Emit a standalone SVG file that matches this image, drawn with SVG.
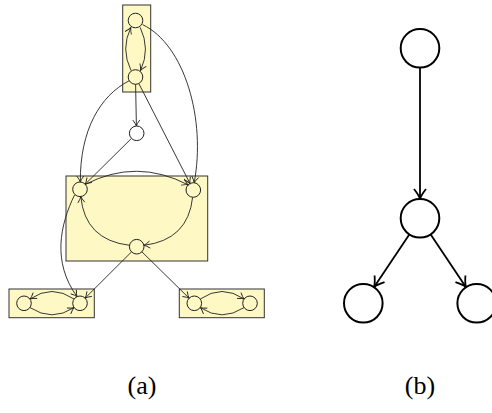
<svg xmlns="http://www.w3.org/2000/svg" width="492" height="413" viewBox="0 0 492 413">
<style>
.box{fill:#fdf8c4;stroke:#333;stroke-width:1}
.na{fill:none;stroke:#222;stroke-width:1}
.ea{fill:none;stroke:#222;stroke-width:0.9;marker-end:url(#aa)}
.nb{fill:#fff;stroke:#000;stroke-width:2}
.eb{fill:none;stroke:#000;stroke-width:1.8;marker-end:url(#ab)}
.lbl{font-family:"Liberation Serif","DejaVu Serif",serif;font-size:26px;fill:#000;text-anchor:middle}
</style>
<defs>
<marker id="aa" markerUnits="userSpaceOnUse" markerWidth="12" markerHeight="12" viewBox="-7 -6 8 12" refX="0" refY="0" orient="auto" overflow="visible">
<path d="M-6,-3.5 Q-2.2,-0.7 0,0 Q-2.2,0.7 -6,3.5" fill="none" stroke="#222" stroke-width="0.9"/>
</marker>
<marker id="ab" markerUnits="userSpaceOnUse" markerWidth="20" markerHeight="20" viewBox="-12 -10 14 20" refX="0" refY="0" orient="auto" overflow="visible">
<path d="M-10,-6 Q-3.8,-1.1 0,0 Q-3.8,1.1 -10,6" fill="none" stroke="#000" stroke-width="1.8"/>
</marker>
</defs>
<g id="boxes">
<rect id="box-top" class="box" x="122.7" y="5" width="28" height="87"/>
<rect id="box-mid" class="box" x="66" y="176" width="141.7" height="85"/>
<rect id="box-bl" class="box" x="9" y="289" width="85.3" height="28.7"/>
<rect id="box-br" class="box" x="179.3" y="289" width="85" height="28.7"/>
</g>
<g id="connectors">
<path class="ea" d="M131,70.5 Q120.5,49 130.8,27.6"/>
<path class="ea" d="M140.2,27.4 Q150.5,49 140.6,70.4"/>
<path class="ea" d="M142.6,24.6 C185,45 206,120 194.2,182.7"/>
<path class="ea" d="M129,80.8 C100,96 80,130 80.3,182"/>
<path class="ea" d="M135.6,84.3 L136.4,126"/>
<path class="ea" d="M138.8,83.5 L190,183.5"/>
<path class="ea" d="M131.5,138.4 L85.2,184.2"/>
<path class="ea" d="M85.5,184.3 Q136.5,158 188,184.8"/>
<path class="ea" d="M192.6,197.4 Q188,240 143.9,245.3"/>
<path class="ea" d="M129.5,245.3 Q85,240 80.8,196.6"/>
<path class="ea" d="M74.6,194.8 C60,225 52,262 77,296.6"/>
<path class="ea" d="M131.5,251.9 L85.2,298.1"/>
<path class="ea" d="M141.9,251.8 L189.1,298.2"/>
<path class="ea" d="M74,299 Q52,284 30.2,298.9"/>
<path class="ea" d="M30,307.6 Q52,322 73.9,307.7"/>
<path class="ea" d="M200.3,299 Q222,284 244,298.9"/>
<path class="ea" d="M244,307.6 Q222,322 200.4,307.7"/>
<path class="eb" d="M420,67.6 L420,199"/>
<path class="eb" d="M409.3,234.4 L374,287.2"/>
<path class="eb" d="M430.7,234.4 L466,287.2"/>
</g>
<g id="node-t1"><circle class="na" cx="135.5" cy="20.5" r="7.3"/></g>
<g id="node-t2"><circle class="na" cx="135.5" cy="77" r="7.3"/></g>
<g id="node-m"><circle class="na" cx="136.7" cy="133.3" r="7.3" style="fill:#fff"/></g>
<g id="node-l"><circle class="na" cx="80" cy="189.3" r="7.3"/></g>
<g id="node-r"><circle class="na" cx="193.3" cy="190" r="7.3"/></g>
<g id="node-b"><circle class="na" cx="136.7" cy="246.7" r="7.3"/></g>
<g id="node-bll"><circle class="na" cx="24" cy="303.3" r="7.3"/></g>
<g id="node-blr"><circle class="na" cx="80" cy="303.3" r="7.3"/></g>
<g id="node-brl"><circle class="na" cx="194.3" cy="303.3" r="7.3"/></g>
<g id="node-brr"><circle class="na" cx="250" cy="303.3" r="7.3"/></g>
<g id="node-b-top"><circle class="nb" cx="420" cy="48.3" r="19.3"/></g>
<g id="node-b-mid"><circle class="nb" cx="420" cy="218.3" r="19.3"/></g>
<g id="node-b-left"><circle class="nb" cx="363.3" cy="303.3" r="19.3"/></g>
<g id="node-b-right"><circle class="nb" cx="476.7" cy="303.3" r="19.3"/></g>
<text class="lbl" x="142" y="394">(a)</text>
<text class="lbl" x="420" y="394">(b)</text>
</svg>
